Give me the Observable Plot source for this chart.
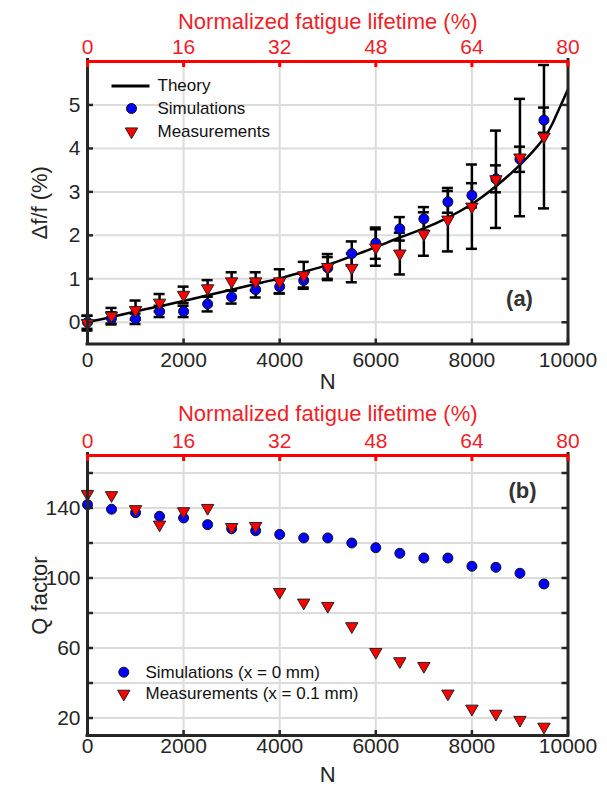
<!DOCTYPE html>
<html><head><meta charset="utf-8">
<script src="https://cdn.jsdelivr.net/npm/d3@7"></script>
<script src="https://cdn.jsdelivr.net/npm/@observablehq/plot@0.6"></script>
<style>body{margin:0;background:#fff}#chart{width:607px;height:786px;overflow:hidden}svg{display:block}</style>
</head><body><div id="chart"></div>
<script>
// ---- data ----
const N = [0,500,1000,1500,2000,2500,3000,3500,4000,4500,5000,5500,6000,6500,7000,7500,8000,8500,9000,9500];
const simDf     = [0.00,0.09,0.08,0.25,0.25,0.42,0.58,0.75,0.82,0.96,1.25,1.58,1.82,2.15,2.38,2.77,2.92,3.30,3.75,4.65];
const simDfErr  = [0.15,0.14,0.12,0.13,0.13,0.17,0.15,0.18,0.15,0.16,0.25,0.28,0.36,0.27,0.27,0.25,0.28,0.31,0.29,0.29];
const measDf    = [-0.02,0.15,0.28,0.45,0.63,0.78,0.94,0.94,0.94,1.08,1.27,1.25,1.72,1.58,2.03,2.36,2.66,3.29,3.79,4.27];
const measDfErr = [0.17,0.18,0.22,0.20,0.19,0.19,0.21,0.21,0.28,0.31,0.30,0.33,0.42,0.48,0.50,0.73,0.97,1.12,1.35,1.65];
const theoryN  = [0,500,1000,1500,2000,2500,3000,3500,4000,4500,5000,5500,6000,6500,7000,7500,8000,8500,9000,9500,9750,10000];
const theoryDf = [0,0.12,0.25,0.37,0.49,0.62,0.75,0.88,1.01,1.16,1.32,1.52,1.73,1.95,2.16,2.41,2.72,3.13,3.62,4.24,4.75,5.36];
const simQ  = [141.9,139.3,137.3,135.3,134.3,130.5,128.2,127.0,124.9,122.9,122.9,120.0,117.3,114.1,111.4,111.4,106.7,106.1,102.7,96.6];
const measQ = [148.0,147.3,139.3,130.5,138.1,140.0,129.1,129.7,92.0,85.9,84.0,72.4,57.7,52.4,49.7,33.9,25.3,22.4,18.9,15.0];
const xTicks = [0,2000,4000,6000,8000,10000];
const topTickLabels = [0,16,32,48,64,80];      // normalized fatigue lifetime (%), 80 % = 10000 cycles
const cyclesAt80 = 10000;
const yTicksA = [0,1,2,3,4,5];
const yTicksB = [20,40,60,80,100,120,140,160];
const yLabelsB = [20,60,100,140];
const legendA = ["Theory","Simulations","Measurements"];
const legendB = ["Simulations (x = 0 mm)","Measurements (x = 0.1 mm)"];

// ---- style ----
const font = "'Liberation Sans', Arial, Helvetica, sans-serif";
const ink = "#262626", red = "#ff0000", redText = "#f01e28", gridC = "#dcdcdc", blue = "#0000ff";
const rCirc = 5, rTri = 4.6;
const S3 = Math.sqrt(3);
const triDown = {draw(ctx, size){ const y = -Math.sqrt(size/(3*S3)); ctx.moveTo(0,-2*y); ctx.lineTo(-S3*y,y); ctx.lineTo(S3*y,y); ctx.closePath(); }};
const hLine = {draw(ctx){ ctx.moveTo(-19,0); ctx.lineTo(19,0); }};

const dataA = N.map((n,i)=>({N:n, sim:simDf[i], simE:simDfErr[i], meas:measDf[i], measE:measDfErr[i]}));
const theory = theoryN.map((n,i)=>({N:n, v:theoryDf[i]}));
const dataB = N.map((n,i)=>({N:n, sim:simQ[i], meas:measQ[i]}));

function label(txt, opts){
  return Plot.text([txt], {x:null, y:null, text:d=>d, lineAnchor:"middle", textAnchor:"middle", ...opts});
}

function frameMarks(yDomain, yTicks, yLabels, o){
  const [y0,y1] = yDomain;
  return [
    Plot.ruleX([0,10000], {stroke:ink, strokeWidth:3, insetTop:-3, insetBottom:-1.5}),
    Plot.ruleY([y0], {stroke:ink, strokeWidth:3, insetLeft:-1.5, insetRight:-1.5}),
    Plot.ruleY([y1], {stroke:red, strokeWidth:3, insetLeft:-1, insetRight:-1}),
    // inward ticks
    Plot.ruleX(xTicks, {x:d=>d, y1:y0, y2:y0, insetTop:-5, stroke:ink, strokeWidth:2.5}),
    Plot.ruleX(xTicks, {x:d=>d, y1:y1, y2:y1, insetBottom:-6, stroke:red, strokeWidth:3}),
    Plot.ruleY(yTicks, {y:d=>d, x1:0, x2:0, insetRight:-6, stroke:ink, strokeWidth:2.5}),
    Plot.ruleY(yTicks, {y:d=>d, x1:10000, x2:10000, insetLeft:-6, stroke:ink, strokeWidth:2.5}),
    // tick labels
    Plot.text(xTicks, {x:d=>d, text:d=>String(d), frameAnchor:"bottom", lineAnchor:"middle", dy:o.bottomDy, fontSize:21, fill:ink}),
    Plot.text(topTickLabels, {x:d=>d*cyclesAt80/80, text:d=>String(d), frameAnchor:"top", lineAnchor:"middle", dy:o.topDy, fontSize:21, fill:redText}),
    Plot.text(yLabels, {y:d=>d, text:d=>String(d), frameAnchor:"left", textAnchor:"end", lineAnchor:"middle", dx:-7, fontSize:21, fill:ink}),
    // axis titles
    label("Normalized fatigue lifetime (%)", {frameAnchor:"top", dy:o.titleDy, fontSize:22, fill:redText}),
    label("N", {frameAnchor:"bottom", dy:o.nDy, fontSize:22, fill:ink}),
    label(o.yLabel, {frameAnchor:"left", dx:-48, rotate:-90, fontSize:22, fill:ink})
  ];
}

const style = {fontFamily:font, fontSize:"21px", color:ink, background:"white", overflow:"visible"};

const A = Plot.plot({
  width:607, height:395, marginTop:61, marginBottom:51.5, marginLeft:87, marginRight:39.5,
  x:{domain:[0,10000], axis:null}, y:{domain:[-0.5,6], axis:null}, style,
  marks:[
    Plot.ruleX(xTicks, {stroke:gridC, strokeWidth:2}),
    Plot.ruleY(yTicksA, {stroke:gridC, strokeWidth:2}),
    Plot.line(theory, {x:"N", y:"v", curve:"natural", stroke:"black", strokeWidth:2.5}),
    Plot.ruleX(dataA, {x:"N", y1:d=>d.meas-d.measE, y2:d=>d.meas+d.measE, stroke:"black", strokeWidth:2.5}),
    Plot.ruleY(dataA, {y:d=>d.meas-d.measE, x1:"N", x2:"N", insetLeft:-5.5, insetRight:-5.5, stroke:"black", strokeWidth:2.5}),
    Plot.ruleY(dataA, {y:d=>d.meas+d.measE, x1:"N", x2:"N", insetLeft:-5.5, insetRight:-5.5, stroke:"black", strokeWidth:2.5}),
    Plot.ruleX(dataA, {x:"N", y1:d=>d.sim-d.simE, y2:d=>d.sim+d.simE, stroke:"black", strokeWidth:2.5}),
    Plot.ruleY(dataA, {y:d=>d.sim-d.simE, x1:"N", x2:"N", insetLeft:-5.5, insetRight:-5.5, stroke:"black", strokeWidth:2.5}),
    Plot.ruleY(dataA, {y:d=>d.sim+d.simE, x1:"N", x2:"N", insetLeft:-5.5, insetRight:-5.5, stroke:"black", strokeWidth:2.5}),
    Plot.dot(dataA, {x:"N", y:"sim", r:rCirc, fill:blue, stroke:"#111", strokeWidth:1}),
    Plot.dot(dataA, {x:"N", y:"meas", r:rTri, symbol:triDown, fill:red, stroke:"#222", strokeWidth:1}),
    ...frameMarks([-0.5,6], yTicksA, yTicksA, {bottomDy:16.5, topDy:-14.5, titleDy:-40, nDy:38, yLabel:"Δf/f (%)"}),
    // legend
    Plot.dot([0], {x:null, y:null, frameAnchor:"top-left", dx:43, dy:24.5, symbol:hLine, r:5, fill:"none", stroke:"black", strokeWidth:3}),
    Plot.dot([0], {x:null, y:null, frameAnchor:"top-left", dx:44, dy:47, r:rCirc, fill:blue, stroke:"#111", strokeWidth:1}),
    Plot.dot([0], {x:null, y:null, frameAnchor:"top-left", dx:44, dy:70, r:rTri, symbol:triDown, fill:red, stroke:"#222", strokeWidth:1}),
    label(legendA[0], {frameAnchor:"top-left", textAnchor:"start", dx:70, dy:24.5, fontSize:17, fill:"#111"}),
    label(legendA[1], {frameAnchor:"top-left", textAnchor:"start", dx:70, dy:47, fontSize:17, fill:"#111"}),
    label(legendA[2], {frameAnchor:"top-left", textAnchor:"start", dx:70, dy:70, fontSize:17, fill:"#111"}),
    label("(a)", {frameAnchor:"bottom-right", dx:-48.5, dy:-45.5, fontSize:22, fontWeight:"bold", fill:"#333"})
  ]
});

const B = Plot.plot({
  width:607, height:391, marginTop:60, marginBottom:51, marginLeft:87, marginRight:39.5,
  x:{domain:[0,10000], axis:null}, y:{domain:[10,170], axis:null}, style,
  marks:[
    Plot.ruleX(xTicks, {stroke:gridC, strokeWidth:2}),
    Plot.ruleY(yTicksB, {stroke:gridC, strokeWidth:2}),
    Plot.dot(dataB, {x:"N", y:"sim", r:rCirc, fill:blue, stroke:"#111", strokeWidth:1}),
    Plot.dot(dataB, {x:"N", y:"meas", r:rTri, symbol:triDown, fill:red, stroke:"#222", strokeWidth:1}),
    ...frameMarks([10,170], yTicksB, yLabelsB, {bottomDy:10.5, topDy:-14.5, titleDy:-42, nDy:39, yLabel:"Q factor"}),
    Plot.dot([0], {x:null, y:null, frameAnchor:"bottom-left", dx:36.3, dy:-63.3, r:rCirc, fill:blue, stroke:"#111", strokeWidth:1}),
    Plot.dot([0], {x:null, y:null, frameAnchor:"bottom-left", dx:36.3, dy:-41.7, r:rTri, symbol:triDown, fill:red, stroke:"#222", strokeWidth:1}),
    label(legendB[0], {frameAnchor:"bottom-left", textAnchor:"start", dx:58, dy:-63.3, fontSize:17, fill:"#111"}),
    label(legendB[1], {frameAnchor:"bottom-left", textAnchor:"start", dx:58, dy:-41.7, fontSize:17, fill:"#111"}),
    label("(b)", {frameAnchor:"top-right", dx:-45.5, dy:35, fontSize:22, fontWeight:"bold", fill:"#333"})
  ]
});

const chart = document.getElementById("chart");
chart.appendChild(A);
chart.appendChild(B);
</script>
</body></html>
